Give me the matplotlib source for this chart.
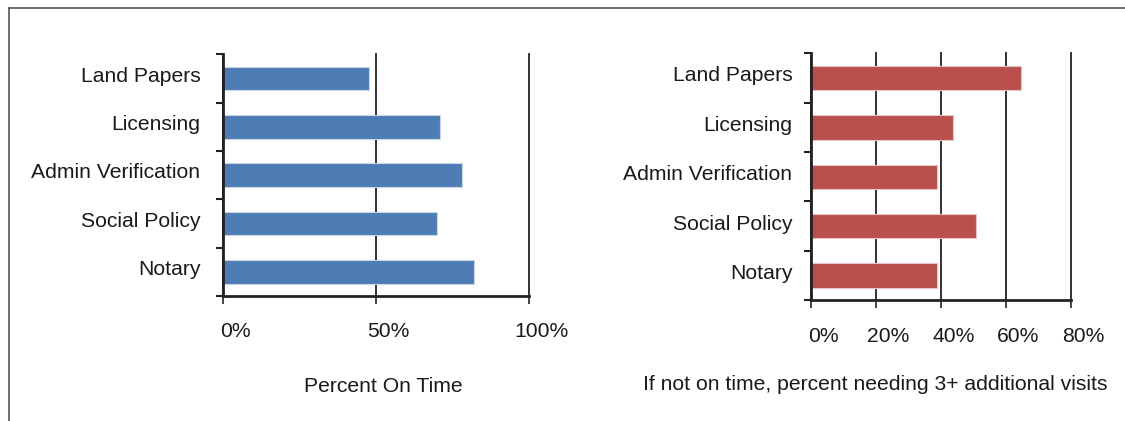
import numpy as np
import matplotlib.pyplot as plt
import matplotlib.transforms as mtransforms
from matplotlib.lines import Line2D

plt.rcParams['font.family'] = ['Liberation Sans', 'DejaVu Sans']

# Dados
offices = ['Land Papers', 'Licensing', 'Admin Verification', 'Social Policy', 'Notary']
on_time = [47.8, 70.9, 78.0, 69.9, 81.9]
three_plus = [64.8, 43.9, 38.9, 50.9, 38.9]

left_ticks = [0, 50, 100]
left_labels = ['0%', '50%', '100%']
right_ticks = [0, 20, 40, 60, 80]
right_labels = ['0%', '20%', '40%', '60%', '80%']

fig = plt.figure(figsize=(11.25, 4.21), dpi=100)


def bar_panel(ax, values, color, edge, ticks, labels, title, title_x, title_y, ypad):
    pos = np.arange(len(offices))
    ax.barh(pos, values, height=0.49, color=color, edgecolor=edge, linewidth=0.8, zorder=3)
    ax.set_ylim(len(offices) - 0.5, -0.5)
    ax.set_xlim(ticks[0], ticks[-1])

    # ticks nas fronteiras das categorias, rotulos no centro
    ax.set_yticks(np.arange(len(offices) + 1) - 0.5)
    ax.set_yticklabels([])
    ax.set_yticks(pos, minor=True)
    ax.set_yticklabels(offices, minor=True, fontsize=15.2, color='#1a1a1a')
    ax.tick_params(axis='y', which='major', direction='out', length=5, width=1.5, color='#222222')
    ax.tick_params(axis='y', which='minor', length=0, pad=ypad)
    up = mtransforms.ScaledTranslation(0, 3 / 72, fig.dpi_scale_trans)
    for lab in ax.get_yticklabels(minor=True):
        lab.set_transform(lab.get_transform() + up)

    ax.set_xticks(ticks)
    ax.set_xticklabels(labels, fontsize=15.2, color='#1a1a1a')
    ax.tick_params(axis='x', direction='out', length=6, width=1.2, color='#222222', pad=13)
    shift = mtransforms.ScaledTranslation(9 / 72, 0, fig.dpi_scale_trans)
    for lab in ax.get_xticklabels():
        lab.set_transform(lab.get_transform() + shift)

    ax.grid(axis='x', color='#222222', linewidth=1.3, zorder=1)
    for line in ax.get_xgridlines():
        line.set_clip_on(False)
    ax.set_axisbelow(True)
    for s in ['top', 'right']:
        ax.spines[s].set_visible(False)
    for s in ['left', 'bottom']:
        ax.spines[s].set_linewidth(2.0)
        ax.spines[s].set_color('#222222')
        ax.spines[s].set_zorder(4)

    ax.text(title_x, title_y, title, transform=ax.transAxes, ha='center', va='center',
            fontsize=15.2, color='#1a1a1a')


ax1 = fig.add_axes([0.1985, 0.2969, 0.2717, 0.5741])
bar_panel(ax1, on_time, '#4e7db5', '#c9d7ea', left_ticks, left_labels,
          'Percent On Time', 0.522, -0.376, 16.5)

ax2 = fig.add_axes([0.7209, 0.2867, 0.2308, 0.5867])
bar_panel(ax2, three_plus, '#b9504e', '#e7c3c2', right_ticks, right_labels,
          'If not on time, percent needing 3+ additional visits', 0.246, -0.34, 13.5)

# moldura (apenas topo e esquerda visiveis)
fig.add_artist(Line2D([8.5 / 1125, 1.0], [1 - 7.5 / 421] * 2, color='#555555', linewidth=1.2))
fig.add_artist(Line2D([8.5 / 1125] * 2, [0.0, 1 - 7.5 / 421], color='#555555', linewidth=1.2))

fig.savefig('out.png', dpi=100)
